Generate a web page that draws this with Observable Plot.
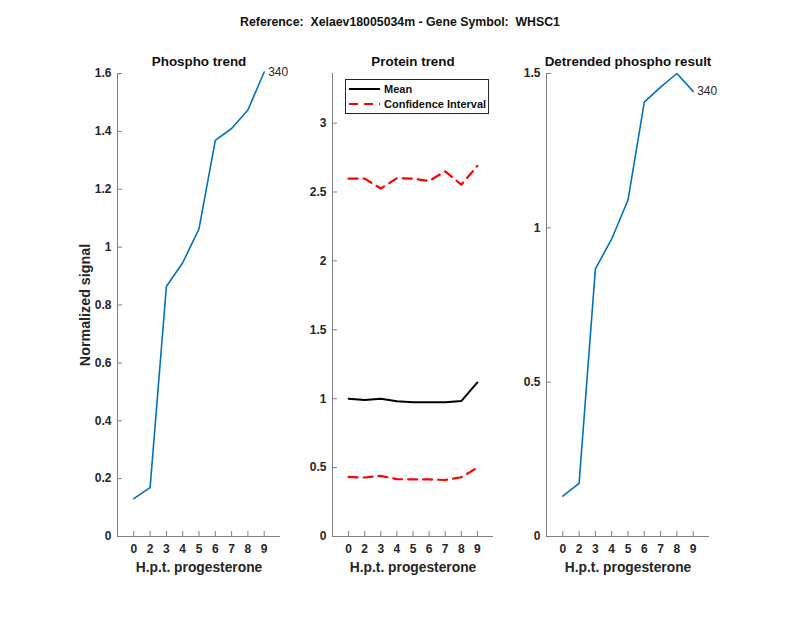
<!DOCTYPE html>
<html>
<head>
<meta charset="utf-8">
<script src="https://cdn.jsdelivr.net/npm/d3@7"></script>
<script src="https://cdn.jsdelivr.net/npm/@observablehq/plot@0.6"></script>
<style>
  html, body { margin: 0; padding: 0; background: #fff; }
  #wrap { position: relative; width: 800px; height: 618px; font-family: "Liberation Sans", Arial, sans-serif; color: #262626; }
  #title { position: absolute; left: 0; top: 15px; width: 800px; text-align: center; font-size: 12.3px; font-weight: bold; white-space: pre; color: #111; }
  .panel { position: absolute; top: 0; }
  #legend { position: absolute; left: 345px; top: 79px; width: 142px; height: 33px; border: 1px solid #262626; background: #fff; font-size: 11px; font-weight: bold; color: #111; }
  .lrow { position: absolute; left: 3px; height: 14px; display: flex; align-items: center; white-space: nowrap; }
  .lrow svg { margin-right: 4px; flex: none; }
</style>
</head>
<body>
<div id="wrap">
  <div id="title"></div>
</div>
<script>
// ---- data ----
const hpt = ["0", "2", "3", "4", "5", "6", "7", "8", "9"];
const phospho = [0.131, 0.169, 0.864, 0.946, 1.063, 1.369, 1.410, 1.474, 1.605];
const proteinMean = [1.0, 0.99, 1.0, 0.982, 0.975, 0.975, 0.975, 0.983, 1.118];
const ciUpper = [2.597, 2.597, 2.525, 2.60, 2.597, 2.58, 2.65, 2.553, 2.69];
const ciLower = [0.432, 0.428, 0.44, 0.416, 0.414, 0.414, 0.41, 0.43, 0.5];
const detrended = [0.131, 0.172, 0.867, 0.964, 1.09, 1.407, 1.456, 1.5, 1.442];
const peptideId = "340";
const ticksPhospho = [0, 0.2, 0.4, 0.6, 0.8, 1, 1.2, 1.4, 1.6];
const ticksProtein = [0, 0.5, 1, 1.5, 2, 2.5, 3];
const ticksDetrended = [0, 0.5, 1, 1.5];
const titleText = "Reference:  Xelaev18005034m - Gene Symbol:  WHSC1";
const panelTitles = ["Phospho trend", "Protein trend", "Detrended phospho result"];
const yLabel = "Normalized signal";
const xLabel = "H.p.t. progesterone";
const legendLabels = ["Mean", "Confidence Interval"];

const wrap = document.getElementById("wrap");
document.getElementById("title").textContent = titleText;

const xPos = hpt.map((_, i) => i + 1);
const toPts = arr => arr.map((v, i) => ({x: i + 1, y: v}));
const BLUE = "#0072BD";
const ML = 60, MR = 60, MT = 73, MB = 82;

function panel({left, plotW, yMax, yTicks, title, marks, ylabel}) {
  const chart = Plot.plot({
    width: plotW + ML + MR,
    height: 618,
    marginLeft: ML, marginRight: MR, marginTop: MT, marginBottom: MB,
    style: {background: "transparent", fontFamily: "Liberation Sans, Arial, sans-serif", fontSize: "12px", fontWeight: "bold", color: "#262626", overflow: "visible"},
    x: {domain: [0, 10], label: null},
    y: {domain: [0, yMax], label: null},
    marks: [
      Plot.ruleX([0], {stroke: "#808080", strokeWidth: 1}),
      Plot.ruleY([0], {stroke: "#808080", strokeWidth: 1}),
      Plot.axisY(yTicks, {tickSize: -5, tickPadding: 11, tickFormat: d => String(d), label: null, stroke: "#808080", fill: "#262626"}),
      Plot.axisX(xPos, {tickSize: -5, tickPadding: 13, tickFormat: i => hpt[i - 1], label: null, stroke: "#808080", fill: "#262626"}),
      ...marks,
      Plot.text([title], {frameAnchor: "top", lineAnchor: "middle", dy: -12, fontSize: 13.4, fontWeight: "bold", fill: "#111"}),
      Plot.text([xLabel], {frameAnchor: "bottom", lineAnchor: "middle", dy: 31, fontSize: 13.8, fontWeight: "bold", fill: "#262626"}),
      ...(ylabel ? [Plot.text([ylabel], {frameAnchor: "left", textAnchor: "middle", lineAnchor: "middle", rotate: -90, dx: -32, fontSize: 14.3, fontWeight: "bold", fill: "#262626"})] : [])
    ]
  });
  chart.classList.add("panel");
  chart.style.left = (left - ML) + "px";
  wrap.appendChild(chart);
}

const endLabel = arr => Plot.text([{x: arr.length, y: arr[arr.length - 1]}], {x: "x", y: "y", text: () => peptideId, textAnchor: "start", dx: 4, fontWeight: "normal", fontSize: 12, fill: "#262626"});

panel({
  left: 117, plotW: 163, yMax: 1.6, yTicks: ticksPhospho, title: panelTitles[0], ylabel: yLabel,
  marks: [
    Plot.line(toPts(phospho), {x: "x", y: "y", stroke: BLUE, strokeWidth: 1.6}),
    endLabel(phospho)
  ]
});

panel({
  left: 332, plotW: 161, yMax: 3.36, yTicks: ticksProtein, title: panelTitles[1],
  marks: [
    Plot.line(toPts(ciUpper), {x: "x", y: "y", stroke: "#ff0000", strokeWidth: 2.2, strokeDasharray: "9,6"}),
    Plot.line(toPts(ciLower), {x: "x", y: "y", stroke: "#ff0000", strokeWidth: 2.2, strokeDasharray: "9,6"}),
    Plot.line(toPts(proteinMean), {x: "x", y: "y", stroke: "#000", strokeWidth: 2})
  ]
});

panel({
  left: 546, plotW: 163, yMax: 1.5, yTicks: ticksDetrended, title: panelTitles[2],
  marks: [
    Plot.line(toPts(detrended), {x: "x", y: "y", stroke: BLUE, strokeWidth: 1.6}),
    endLabel(detrended)
  ]
});

// legend (HTML, above the middle panel)
const legend = document.createElement("div");
legend.id = "legend";
legend.innerHTML = `
  <div class="lrow" style="top:2px"><svg width="31" height="6"><line x1="0" y1="3" x2="31" y2="3" stroke="#000" stroke-width="2"/></svg>${legendLabels[0]}</div>
  <div class="lrow" style="top:17px"><svg width="31" height="6"><line x1="0" y1="3" x2="31" y2="3" stroke="#f00" stroke-width="2.2" stroke-dasharray="9,6"/></svg>${legendLabels[1]}</div>`;
wrap.appendChild(legend);
</script>
</body>
</html>
